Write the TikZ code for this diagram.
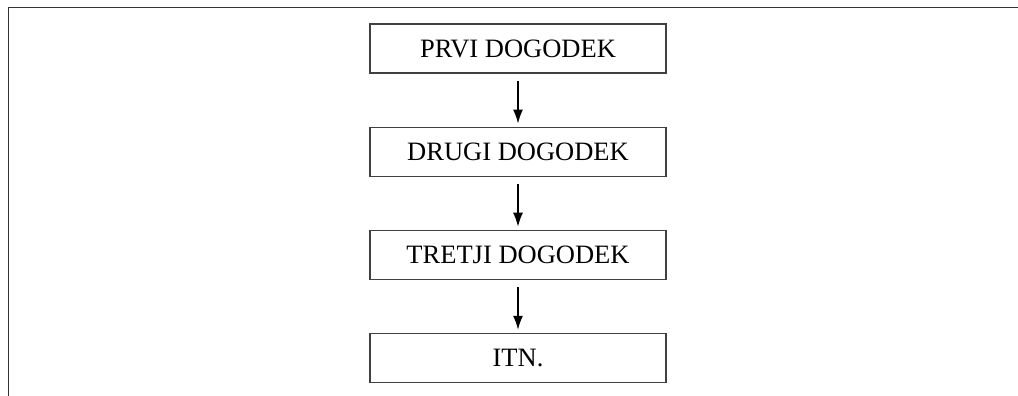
\documentclass[tikz,border=0pt]{standalone}
\usepackage{fontspec}
\setmainfont{Liberation Serif}
\usepackage{tikz}
\usetikzlibrary{positioning,arrows.meta}
\tikzset{
  dogodek/.style={draw=black!75, line width=1.1pt, minimum width=296pt,
    minimum height=49pt, inner sep=0pt, font=\fontsize{26.5}{30}\selectfont},
  puscica/.style={-{Latex[length=14pt,width=10pt]}, line width=1.3pt,
    shorten <=7pt, shorten >=3pt}
}
\begin{document}
\begin{tikzpicture}[x=1pt, y=1pt]
  \useasboundingbox (0,0) rectangle (1018,-396);

  % ---------- frame ----------
  \coordinate (okvirL) at (8.5,-396);
  \coordinate (okvirTL) at (8.5,-7.5);
  \coordinate (okvirR) at (1018,-7.5);
  \draw[line width=1.6pt, black!80] (okvirL) -- (okvirTL) -- (okvirR);

  % ---------- events ----------
  \node[dogodek] (prvi)   at (518,-48.5) {PRVI DOGODEK};
  \node[dogodek, below=53pt of prvi]   (drugi)  {DRUGI DOGODEK};
  \node[dogodek, below=53pt of drugi]  (tretji) {TRETJI DOGODEK};
  \node[dogodek, below=53pt of tretji] (itn)    {ITN.};

  % ---------- arrows ----------
  \draw[puscica] (prvi)   -- (drugi);
  \draw[puscica] (drugi)  -- (tretji);
  \draw[puscica] (tretji) -- (itn);

\end{tikzpicture}
\end{document}
